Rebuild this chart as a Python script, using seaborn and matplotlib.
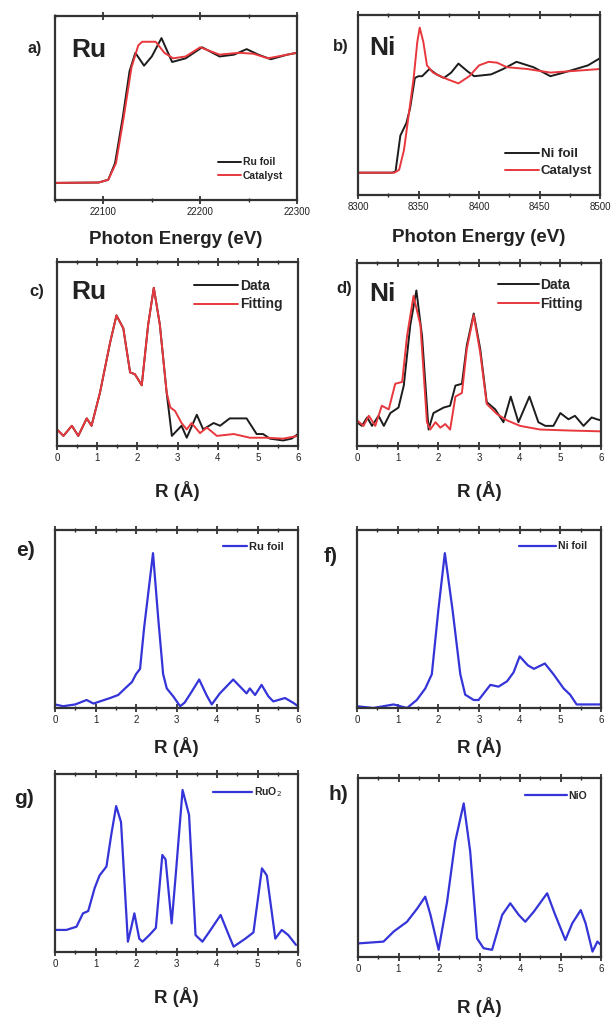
import pandas as pd
import seaborn as sns
import matplotlib.pyplot as plt
from matplotlib.ticker import MultipleLocator

# ── Data (normalised intensities) ──────────────────────────────────────────
# a) Ru K-edge XANES
ru_e_foil = [22050, 22095, 22105, 22112, 22120, 22127, 22133, 22142, 22150, 22160,
             22171, 22185, 22202, 22220, 22235, 22248, 22260, 22273, 22290, 22300]
ru_foil = [0.093, 0.095, 0.11, 0.20, 0.45, 0.70, 0.80, 0.73, 0.78, 0.88,
           0.75, 0.77, 0.83, 0.78, 0.79, 0.82, 0.79, 0.765, 0.79, 0.80]
ru_e_cat = [22050, 22095, 22105, 22113, 22121, 22129, 22136, 22140, 22154, 22163,
            22172, 22185, 22200, 22220, 22240, 22255, 22270, 22285, 22300]
ru_cat = [0.093, 0.095, 0.11, 0.20, 0.45, 0.72, 0.84, 0.86, 0.86, 0.80,
          0.77, 0.78, 0.83, 0.79, 0.80, 0.795, 0.77, 0.785, 0.80]

# b) Ni K-edge XANES
ni_e_foil = [8300, 8328, 8331, 8335, 8340, 8343, 8347, 8350, 8353, 8359, 8365, 8371,
             8377, 8383, 8390, 8396, 8410, 8420, 8431, 8445, 8459, 8470, 8480, 8490, 8500]
ni_foil = [0.124, 0.124, 0.13, 0.33, 0.40, 0.48, 0.65, 0.66, 0.66, 0.70, 0.67, 0.65,
           0.68, 0.73, 0.69, 0.66, 0.67, 0.70, 0.74, 0.71, 0.66, 0.68, 0.70, 0.72, 0.76]
ni_e_cat = [8300, 8330, 8334, 8338, 8342, 8346, 8349, 8351, 8354, 8357, 8362, 8368,
            8375, 8383, 8392, 8400, 8408, 8415, 8423, 8440, 8459, 8480, 8500]
ni_cat = [0.124, 0.124, 0.14, 0.25, 0.45, 0.65, 0.85, 0.93, 0.85, 0.72, 0.68, 0.66,
          0.64, 0.62, 0.66, 0.72, 0.74, 0.735, 0.71, 0.70, 0.68, 0.69, 0.70]

# c) Ru EXAFS fit
c_r_data = [0, 0.16, 0.37, 0.53, 0.74, 0.86, 1.07, 1.32, 1.48, 1.65, 1.82, 1.94, 2.11,
            2.27, 2.41, 2.56, 2.73, 2.86, 3.1, 3.23, 3.48, 3.64, 3.9, 4.06, 4.3, 4.72,
            4.97, 5.13, 5.3, 5.63, 5.84, 6.0]
c_data = [0.09, 0.055, 0.11, 0.055, 0.15, 0.11, 0.29, 0.56, 0.71, 0.64, 0.40, 0.39, 0.33,
          0.66, 0.86, 0.66, 0.29, 0.055, 0.11, 0.045, 0.17, 0.09, 0.125, 0.11, 0.15, 0.15,
          0.065, 0.065, 0.04, 0.03, 0.04, 0.065]
c_r_fit = [0, 0.16, 0.37, 0.53, 0.74, 0.86, 1.07, 1.32, 1.48, 1.65, 1.82, 1.94, 2.11,
           2.27, 2.41, 2.56, 2.73, 2.82, 2.94, 3.1, 3.23, 3.35, 3.56, 3.73, 3.98, 4.4,
           4.8, 5.2, 5.63, 6.0]
c_fit = [0.09, 0.055, 0.11, 0.055, 0.15, 0.11, 0.29, 0.56, 0.71, 0.64, 0.40, 0.39, 0.33,
         0.66, 0.86, 0.66, 0.29, 0.21, 0.19, 0.125, 0.09, 0.125, 0.07, 0.10, 0.055, 0.065,
         0.045, 0.045, 0.04, 0.055]

# d) Ni EXAFS fit
d_r_data = [0, 0.12, 0.25, 0.37, 0.53, 0.66, 0.82, 1.02, 1.15, 1.31, 1.46, 1.6, 1.76,
            1.88, 2.13, 2.29, 2.42, 2.58, 2.70, 2.87, 3.03, 3.19, 3.4, 3.6, 3.78, 3.97,
            4.24, 4.46, 4.63, 4.83, 5.0, 5.2, 5.36, 5.57, 5.77, 5.9, 6.0]
d_data = [0.13, 0.11, 0.156, 0.11, 0.165, 0.11, 0.18, 0.21, 0.33, 0.66, 0.85, 0.60, 0.09,
          0.18, 0.21, 0.22, 0.33, 0.34, 0.55, 0.724, 0.53, 0.24, 0.20, 0.13, 0.27, 0.13,
          0.27, 0.13, 0.11, 0.11, 0.18, 0.146, 0.165, 0.11, 0.156, 0.146, 0.14]
d_r_fit = [0, 0.16, 0.29, 0.45, 0.61, 0.78, 0.94, 1.11, 1.23, 1.39, 1.56, 1.72, 1.8,
           1.93, 2.05, 2.17, 2.29, 2.42, 2.58, 2.70, 2.87, 3.03, 3.19, 3.44, 3.69, 4.01,
           4.5, 5.16, 6.0]
d_fit = [0.14, 0.11, 0.165, 0.11, 0.22, 0.20, 0.34, 0.35, 0.60, 0.82, 0.66, 0.13, 0.09,
         0.13, 0.10, 0.12, 0.09, 0.27, 0.29, 0.53, 0.715, 0.51, 0.23, 0.175, 0.14, 0.11,
         0.09, 0.085, 0.08]

# e) Ru foil reference
e_r = [0, 0.2, 0.5, 0.78, 0.95, 1.36, 1.56, 1.73, 1.9, 2.0, 2.1, 2.2, 2.42, 2.55, 2.67,
       2.76, 2.92, 3.09, 3.2, 3.37, 3.56, 3.74, 3.87, 4.07, 4.4, 4.57, 4.73, 4.81, 4.94,
       5.1, 5.27, 5.39, 5.68, 5.89, 6.0]
e_foil = [0.02, 0.01, 0.02, 0.045, 0.025, 0.056, 0.073, 0.11, 0.146, 0.19, 0.22, 0.45,
          0.87, 0.5, 0.19, 0.11, 0.065, 0.01, 0.03, 0.09, 0.16, 0.073, 0.02, 0.082, 0.16,
          0.12, 0.082, 0.11, 0.073, 0.13, 0.065, 0.037, 0.056, 0.028, 0.01]

# f) Ni foil reference
f_r = [0, 0.4, 0.9, 1.23, 1.47, 1.68, 1.84, 2.0, 2.16, 2.35, 2.54, 2.66, 2.87, 2.99,
       3.28, 3.48, 3.69, 3.85, 4.0, 4.2, 4.35, 4.62, 4.83, 5.08, 5.24, 5.4, 6.0]
f_foil = [0.01, 0.0, 0.02, 0.0, 0.045, 0.11, 0.19, 0.55, 0.87, 0.55, 0.19, 0.075, 0.045,
          0.045, 0.13, 0.12, 0.15, 0.20, 0.29, 0.24, 0.22, 0.25, 0.19, 0.11, 0.075, 0.02, 0.02]

# g) RuO2 reference
g_r = [0, 0.28, 0.53, 0.69, 0.82, 0.98, 1.1, 1.27, 1.39, 1.51, 1.63, 1.8, 1.88, 1.96,
       2.08, 2.16, 2.33, 2.49, 2.65, 2.73, 2.88, 2.98, 3.15, 3.31, 3.47, 3.64, 3.8, 4.09,
       4.29, 4.41, 4.7, 4.9, 5.11, 5.23, 5.44, 5.6, 5.76, 5.95]
g_ruo2 = [0.124, 0.124, 0.142, 0.217, 0.23, 0.36, 0.43, 0.48, 0.66, 0.82, 0.73, 0.058,
          0.135, 0.217, 0.075, 0.058, 0.095, 0.135, 0.545, 0.52, 0.161, 0.43, 0.91, 0.77,
          0.095, 0.058, 0.11, 0.208, 0.095, 0.03, 0.075, 0.11, 0.47, 0.43, 0.075, 0.124,
          0.095, 0.04]

# h) NiO reference
h_r = [0.01, 0.63, 0.88, 1.21, 1.46, 1.66, 1.79, 1.99, 2.2, 2.4, 2.61, 2.77, 2.94, 3.1,
       3.31, 3.56, 3.76, 3.97, 4.13, 4.34, 4.67, 4.87, 5.12, 5.29, 5.5, 5.62, 5.79, 5.91, 6.0]
h_nio = [0.076, 0.086, 0.142, 0.197, 0.27, 0.337, 0.235, 0.04, 0.309, 0.645, 0.858, 0.59,
         0.104, 0.049, 0.04, 0.235, 0.30, 0.235, 0.197, 0.253, 0.356, 0.235, 0.095, 0.188,
         0.262, 0.188, 0.03, 0.086, 0.067]

# ── Appearance ─────────────────────────────────────────────────────────────
sns.set_theme(style="white")
plt.rcParams['font.family'] = ['Liberation Sans', 'DejaVu Sans']
BLACK, RED, BLUE = "#1c1c1c", "#e8383d", "#3434d8"
W, H = 614, 1019

fig = plt.figure(figsize=(W / 100, H / 100), dpi=100)


def add_ax(l, t, r, b):
    return fig.add_axes([l / W, 1 - b / H, (r - l) / W, (b - t) / H])


def style_ax(ax, xlim, major, minor, xlabel, label_top, bottom, top):
    ax.set_xlim(*xlim)
    ax.set_ylim(0, 1)
    ax.set_yticks([])
    ax.set_ylabel("")
    ax.xaxis.set_major_locator(MultipleLocator(major))
    ax.xaxis.set_minor_locator(MultipleLocator(minor))
    ax.tick_params(axis="x", which="major", direction="inout", length=6, width=1.2,
                   top=True, bottom=True, labelsize=7, pad=2, colors="#222")
    ax.tick_params(axis="x", which="minor", direction="inout", length=3.5, width=1.0,
                   top=True, bottom=True)
    for s in ax.spines.values():
        s.set_linewidth(1.6)
        s.set_color("#333333")
    ax.set_xlabel(xlabel, fontsize=13.5, fontweight="bold", color="#222")
    ax.xaxis.set_label_coords(0.5, -(label_top - bottom) / (bottom - top))


def legend(ax, loc, anchor, fs, hl):
    ax.legend(loc=loc, bbox_to_anchor=anchor, frameon=False,
              handlelength=hl, handletextpad=0.15, labelspacing=0.35,
              prop=dict(size=fs, weight="bold"), borderaxespad=0)


def draw(ax, x, y, color, label, lw=1.4):
    df = pd.DataFrame({"x": x, "y": y})
    sns.lineplot(data=df, x="x", y="y", ax=ax, color=color, lw=lw, label=label,
                 sort=False, estimator=None, solid_joinstyle="round")


# a)
ax = add_ax(55, 16, 297, 200)
draw(ax, ru_e_foil, ru_foil, BLACK, "Ru foil")
draw(ax, ru_e_cat, ru_cat, RED, "Catalyst")
style_ax(ax, (22050, 22300), 100, 50, "Photon Energy (eV)", 231, 200, 16)
legend(ax, "lower right", (0.96, 0.08), 7.5, 2.2)

# b)
ax = add_ax(358, 15, 600, 195)
draw(ax, ni_e_foil, ni_foil, BLACK, "Ni foil")
draw(ax, ni_e_cat, ni_cat, RED, "Catalyst")
style_ax(ax, (8300, 8500), 50, 25, "Photon Energy (eV)", 229, 195, 15)
legend(ax, "lower right", (0.99, 0.07), 9.5, 2.6)

# c)
ax = add_ax(57, 262, 298, 446)
draw(ax, c_r_data, c_data, BLACK, "Data")
draw(ax, c_r_fit, c_fit, RED, "Fitting")
style_ax(ax, (0, 6), 1, 0.5, "R (Å)", 481, 446, 262)
legend(ax, "upper right", (0.96, 0.94), 10, 3.2)

# d)
ax = add_ax(357, 263, 601, 446)
draw(ax, d_r_data, d_data, BLACK, "Data")
draw(ax, d_r_fit, d_fit, RED, "Fitting")
style_ax(ax, (0, 6), 1, 0.5, "R (Å)", 481, 446, 263)
legend(ax, "upper right", (0.95, 0.95), 10, 2.9)

# e)
ax = add_ax(55, 530, 298, 708)
draw(ax, e_r, e_foil, BLUE, "Ru foil", lw=1.6)
style_ax(ax, (0, 6), 1, 0.5, "R (Å)", 737, 708, 530)
legend(ax, "upper right", (0.96, 0.96), 8, 2.2)

# f)
ax = add_ax(357, 530, 601, 708)
draw(ax, f_r, f_foil, BLUE, "Ni foil", lw=1.6)
style_ax(ax, (0, 6), 1, 0.5, "R (Å)", 737, 708, 530)
legend(ax, "upper right", (0.96, 0.96), 7.5, 3.6)

# g)
ax = add_ax(55, 774, 298, 952)
draw(ax, g_r, g_ruo2, BLUE, "RuO$_2$", lw=1.6)
style_ax(ax, (0, 6), 1, 0.5, "R (Å)", 987, 952, 774)
legend(ax, "upper right", (0.95, 0.96), 7.5, 3.8)

# h)
ax = add_ax(358, 778, 601, 957)
draw(ax, h_r, h_nio, BLUE, "NiO", lw=1.6)
style_ax(ax, (0, 6), 1, 0.5, "R (Å)", 997, 957, 778)
legend(ax, "upper right", (0.96, 0.95), 7.5, 4.0)

# ── panel letters and element tags ─────────────────────────────────────────
letters = [("a)", 27, 48, 11.5), ("b)", 333, 47, 12), ("c)", 29, 291, 12),
           ("d)", 336, 289, 12), ("e)", 16, 551, 15), ("f)", 324, 556, 15),
           ("g)", 14, 798, 15), ("h)", 328, 795, 15)]
for s, x, y, fs in letters:
    fig.text(x / W, 1 - y / H, s, ha="left", va="center", fontsize=fs,
             fontweight="bold", color="#222")

elements = [("Ru", 71, 50), ("Ni", 369, 48), ("Ru", 71, 292), ("Ni", 369, 294)]
for s, x, y in elements:
    fig.text(x / W, 1 - y / H, s, ha="left", va="center", fontsize=19,
             fontweight="bold", color="#222")

fig.savefig("out.png", dpi=100, facecolor="white")
